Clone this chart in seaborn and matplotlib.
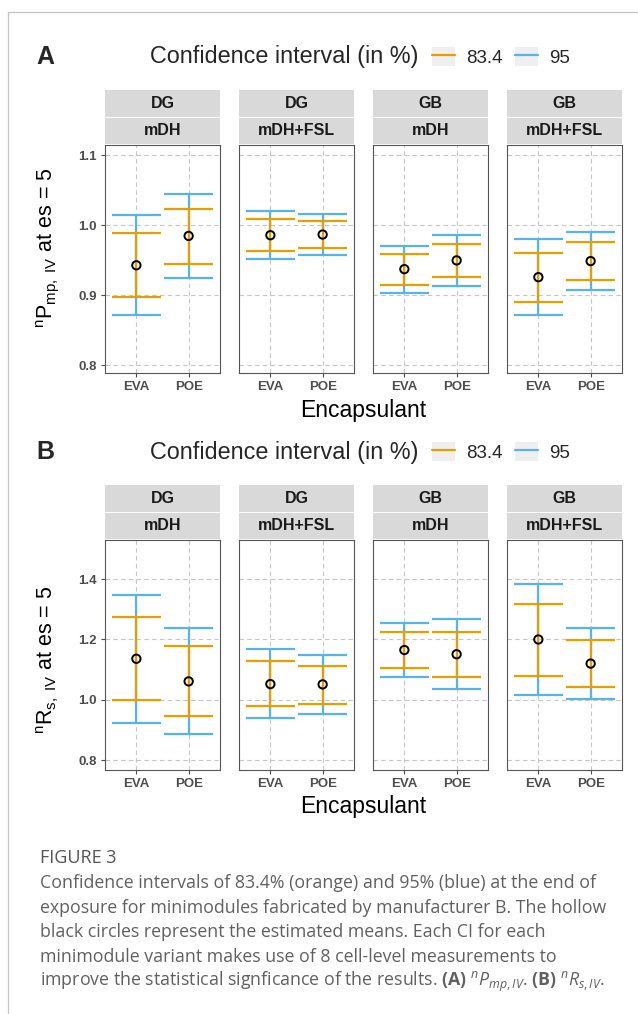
import numpy as np
import pandas as pd
import matplotlib
matplotlib.use('Agg')
import matplotlib.pyplot as plt
import seaborn as sns
from matplotlib.lines import Line2D
from matplotlib.patches import Rectangle
from matplotlib.legend_handler import HandlerTuple

# facets and categories
groups = ['DG', 'DG', 'GB', 'GB']
variants = ['mDH', 'mDH+FSL', 'mDH', 'mDH+FSL']
encaps = ['EVA', 'POE']

# panel A: nPmp,IV  (per facet: EVA, POE)
pmp_mean = [0.943, 0.985, 0.986, 0.987, 0.9375, 0.950, 0.926, 0.949]
pmp_lo834 = [0.897, 0.945, 0.964, 0.968, 0.915, 0.9265, 0.891, 0.922]
pmp_hi834 = [0.989, 1.024, 1.0095, 1.0067, 0.959, 0.9737, 0.961, 0.976]
pmp_lo95 = [0.8726, 0.9246, 0.952, 0.958, 0.903, 0.914, 0.8726, 0.908]
pmp_hi95 = [1.0153, 1.0453, 1.021, 1.0167, 0.971, 0.986, 0.980, 0.9905]

# panel B: nRs,IV
rs_mean = [1.136, 1.061, 1.052, 1.051, 1.165, 1.151, 1.200, 1.120]
rs_lo834 = [0.998, 0.946, 0.980, 0.987, 1.105, 1.076, 1.080, 1.041]
rs_hi834 = [1.2755, 1.177, 1.127, 1.113, 1.224, 1.226, 1.319, 1.197]
rs_lo95 = [0.924, 0.887, 0.941, 0.954, 1.075, 1.036, 1.017, 1.001]
rs_hi95 = [1.348, 1.239, 1.167, 1.147, 1.255, 1.267, 1.383, 1.238]

pmp_ticks = [0.8, 0.9, 1.0, 1.1]
rs_ticks = [0.8, 1.0, 1.2, 1.4]

ORANGE = '#E69F00'
BLUE = '#56B4E9'
GRID = '#C6C6C6'
DARK = '#4D4D4D'

sns.set_theme(style='white')
plt.rcParams['font.family'] = ['Liberation Sans', 'DejaVu Sans']
plt.rcParams['mathtext.fontset'] = 'custom'
plt.rcParams['mathtext.rm'] = 'Open Sans'
plt.rcParams['mathtext.it'] = 'Open Sans:italic'
plt.rcParams['mathtext.bf'] = 'Open Sans:bold'
plt.rcParams['mathtext.default'] = 'regular'


def make_df(mean, lo834, hi834, lo95, hi95):
    return pd.DataFrame({
        'facet': np.repeat(np.arange(len(groups)), len(encaps)),
        'encap': encaps * len(groups),
        'pos': list(range(len(encaps))) * len(groups),
        'mean': mean, 'lo834': lo834, 'hi834': hi834,
        'lo95': lo95, 'hi95': hi95,
    })


W, H = 638, 1014
fig = plt.figure(figsize=(W / 100, H / 100), dpi=100)


def px(x0, y0, w, h):
    return [x0 / W, 1 - (y0 + h) / H, w / W, h / H]


lefts = [105, 239, 373, 507]
pw = 115


def draw_panel(df, ylim, yticks, top, height, ylabel, letter, ylab_y):
    strip_h = 27.5
    for i in range(len(groups)):
        ax = fig.add_axes(px(lefts[i], top, pw, height))
        sub = df[df.facet == i]
        for lo, hi, col in [('lo95', 'hi95', BLUE), ('lo834', 'hi834', ORANGE)]:
            ax.vlines(sub.pos, sub[lo], sub[hi], color=col, lw=1.6, zorder=3)
            ax.hlines(sub[lo], sub.pos - 0.47, sub.pos + 0.47, color=col, lw=1.6, zorder=3)
            ax.hlines(sub[hi], sub.pos - 0.47, sub.pos + 0.47, color=col, lw=1.6, zorder=3)
        sns.scatterplot(data=sub, x='pos', y='mean', ax=ax, s=36,
                        facecolor='none', edgecolor='black', linewidth=1.4,
                        zorder=5, legend=False)
        ax.set_xlim(-0.6, len(encaps) - 0.4)
        ax.set_ylim(*ylim)
        ax.set_xticks(range(len(encaps)))
        ax.set_xticklabels(encaps, fontweight='bold')
        ax.set_yticks(yticks)
        ax.set_yticklabels([f'{t:.1f}' for t in yticks], fontweight='bold')
        ax.set_xlabel('')
        ax.set_ylabel('')
        ax.grid(True, ls=(0, (4, 3)), color=GRID, lw=0.8)
        ax.set_axisbelow(True)
        for s in ax.spines.values():
            s.set_color('#555555')
            s.set_linewidth(0.8)
        ax.tick_params(axis='both', length=3, width=0.8, color=DARK,
                       labelcolor=DARK, labelsize=9.5, pad=3,
                       bottom=True, left=(i == 0), labelleft=(i == 0))
        # strips
        for r, lab in enumerate([groups[i], variants[i]]):
            sax = fig.add_axes(px(lefts[i], top - strip_h * (2 - r), pw, strip_h - 0.6))
            sax.set_facecolor('#D9D9D9')
            sax.set_xticks([])
            sax.set_yticks([])
            for s in sax.spines.values():
                s.set_visible(False)
            sax.text(0.5, 0.5, lab, ha='center', va='center', fontsize=11.5,
                     fontweight='bold', color='#1A1A1A', transform=sax.transAxes)

    cx = (lefts[0] + lefts[-1] + pw) / 2
    fig.text(cx / W, 1 - (top + height + 37) / H, 'Encapsulant', ha='center',
             va='center', fontsize=16.5, color='black')
    fig.text(48 / W, 1 - ylab_y / H, ylabel, rotation=90,
             ha='center', va='center', fontsize=15.5, color='black')

    # header: letter + legend
    ly = top - strip_h * 2 - 33
    fig.text(36 / W, 1 - ly / H, letter, ha='left', va='center',
             fontsize=18, fontweight='bold')
    fig.text(150 / W, 1 - ly / H, 'Confidence interval (in %)', ha='left',
             va='center', fontsize=16.8)
    key = dict(facecolor='#EFEFEF', edgecolor='none')
    handles = [(Rectangle((0, 0), 1, 1, **key), Line2D([], [], color=ORANGE, lw=1.6)),
               (Rectangle((0, 0), 1, 1, **key), Line2D([], [], color=BLUE, lw=1.6))]
    fig.legend(handles, ['83.4', '95'], ncol=2, loc='center left',
               bbox_to_anchor=(432 / W, 1 - ly / H), frameon=False,
               handlelength=1.2, handleheight=1.2, handletextpad=0.6,
               columnspacing=0.7, fontsize=13.5, borderpad=0, borderaxespad=0,
               handler_map={tuple: HandlerTuple(ndivide=1, pad=0)})


dfA = make_df(pmp_mean, pmp_lo834, pmp_hi834, pmp_lo95, pmp_hi95)
dfB = make_df(rs_mean, rs_lo834, rs_hi834, rs_lo95, rs_hi95)

draw_panel(dfA, (0.789, 1.115), pmp_ticks, 145, 228,
           r'$^{n}P_{mp,\ IV}$ at es = 5', 'A', 248)
draw_panel(dfB, (0.767, 1.530), rs_ticks, 540, 230,
           r'$^{n}R_{s,\ IV}$ at es = 5', 'B', 660)

# page frame
fig.add_artist(Line2D([8 / W, 1], [1 - 11.5 / H] * 2, color='#C4C4C4', lw=0.9))
fig.add_artist(Line2D([8 / W] * 2, [0, 1 - 11.5 / H], color='#C4C4C4', lw=0.9))

# caption
cap_col = '#606060'
fig.text(40 / W, 1 - 858 / H, 'FIGURE 3', ha='left', va='center',
         fontsize=13, color='#555555', family='Open Sans')
cap_lines = [
    'Confidence intervals of 83.4% (orange) and 95% (blue) at the end of',
    'exposure for minimodules fabricated by manufacturer B. The hollow',
    'black circles represent the estimated means. Each CI for each',
    'minimodule variant makes use of 8 cell-level measurements to',
    r'improve the statistical signficance of the results. $\mathbf{(A)}$ '
    r'$^{\mathit{n}}\mathit{P}_{\mathit{mp,IV}}$. $\mathbf{(B)}$ '
    r'$^{\mathit{n}}\mathit{R}_{\mathit{s,IV}}$.',
]
for k, line in enumerate(cap_lines):
    fig.text(40 / W, 1 - (883 + 24.6 * k) / H, line, ha='left', va='center',
             fontsize=12.8, color=cap_col, family='Open Sans')

fig.savefig('out.png', dpi=100)
